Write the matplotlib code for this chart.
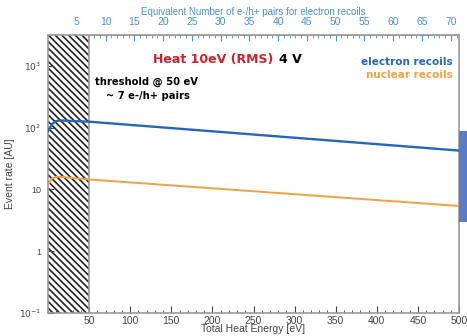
import numpy as np
import matplotlib
matplotlib.use("Agg")
import matplotlib.pyplot as plt
from matplotlib.patches import Rectangle
from matplotlib.ticker import FixedLocator, MultipleLocator

# Data
energy = [0, 5, 10, 15, 20, 30, 50, 500]
electron_rate = [88, 115, 128, 131, 130, 128, 125, 42.6]
nuclear_rate = [12, 15, 16, 16, 15.8, 15.3, 14.5, 5.4]

threshold_ev = 50
ev_per_pair = 7.0
x_ticks = [50, 100, 150, 200, 250, 300, 350, 400, 450, 500]
pair_ticks = [5, 10, 15, 20, 25, 30, 35, 40, 45, 50, 55, 60, 65, 70]
y_ticks = [0.1, 1, 10, 100, 1000]
y_labels = [r"$10^{-1}$", "1", "10", r"$10^{2}$", r"$10^{3}$"]

blue = "#2566b8"
orange = "#f0a045"
top_blue = "#4a8fd4"
red = "#d0202e"
grey = "#444444"
frame = "#9a9a9a"

plt.rcParams["font.family"] = ["Liberation Sans", "DejaVu Sans"]
plt.rcParams["hatch.linewidth"] = 1.2

fig = plt.figure(figsize=(4.67, 3.36), dpi=100)
ax = fig.add_axes([0.1028, 0.0685, 0.8801, 0.8273])

ax.set_xlim(0, 500)
ax.set_yscale("log")
ax.set_ylim(0.1, 10 ** 3.5)

# threshold hatch
ax.add_patch(Rectangle((0, 0.1), threshold_ev, 10 ** 3.5 - 0.1, facecolor="white",
                       edgecolor="#222222", hatch="\\" * 5, linewidth=0, zorder=1))
ax.axvline(threshold_ev, color=frame, lw=1.2, zorder=2)

ax.plot(energy, electron_rate, color=blue, lw=1.7, zorder=3)
ax.plot(energy, nuclear_rate, color=orange, lw=1.4, zorder=3)

for s in ax.spines.values():
    s.set_color(frame)
    s.set_linewidth(1.2)

ax.xaxis.set_major_locator(FixedLocator(x_ticks))
ax.xaxis.set_minor_locator(MultipleLocator(10))
ax.set_xticklabels([str(t) for t in x_ticks])
ax.set_yticks(y_ticks)
ax.set_yticklabels(y_labels)
ax.yaxis.set_minor_locator(FixedLocator([]))
ax.tick_params(axis="x", which="major", direction="in", length=5, color=grey,
               labelsize=7.5, labelcolor=grey, pad=2, top=False)
ax.tick_params(axis="x", which="minor", direction="in", length=2.5, color=grey, top=False)
ax.tick_params(axis="y", which="major", direction="in", length=4, color=grey,
               labelsize=6.5, labelcolor=grey, pad=5)
ax.set_xlabel("Total Heat Energy [eV]", fontsize=7.5, color=grey, labelpad=-1)
ax.set_ylabel("Event rate [AU]", fontsize=7.5, color=grey, labelpad=3)

# top axis: equivalent number of e-/h+ pairs
top = ax.secondary_xaxis("top", functions=(lambda e: e / ev_per_pair, lambda n: n * ev_per_pair))
top.set_xticks(pair_ticks)
top.xaxis.set_minor_locator(MultipleLocator(1))
top.tick_params(which="major", direction="in", length=4, color=top_blue,
                labelsize=7.5, labelcolor=top_blue, pad=6)
top.tick_params(which="minor", direction="in", length=2, color=top_blue)
top.spines["top"].set_color(frame)
top.set_xlabel("Equivalent Number of e-/h+ pairs for electron recoils",
               fontsize=7, color=top_blue, labelpad=1)

tr = ax.transAxes
ax.text(0.255, 0.911, "Heat 10eV (RMS)", transform=tr, color=red, fontsize=9,
        fontweight="bold", family="DejaVu Sans", va="center")
ax.text(0.563, 0.911, "4 V", transform=tr, color="black", fontsize=9,
        fontweight="bold", family="DejaVu Sans", va="center")
ax.text(0.985, 0.904, "electron recoils", transform=tr, color=blue, fontsize=7.5,
        fontweight="bold", family="DejaVu Sans", ha="right", va="center")
ax.text(0.985, 0.856, "nuclear recoils", transform=tr, color=orange, fontsize=7.5,
        fontweight="bold", family="DejaVu Sans", ha="right", va="center")
ax.text(0.115, 0.831, "threshold @ 50 eV", transform=tr, color="black", fontsize=7.2,
        fontweight="bold", family="DejaVu Sans", va="center")
ax.text(0.14, 0.78, "~ 7 e-/h+ pairs", transform=tr, color="black", fontsize=7.2,
        fontweight="bold", family="DejaVu Sans", va="center")

# slide artifact on right edge
fig.patches.append(Rectangle((459 / 467, 1 - 222 / 336), 8 / 467, 91 / 336,
                             transform=fig.transFigure, facecolor="#5b7cc4",
                             edgecolor="none", zorder=5))

fig.savefig("out.png", dpi=100)
